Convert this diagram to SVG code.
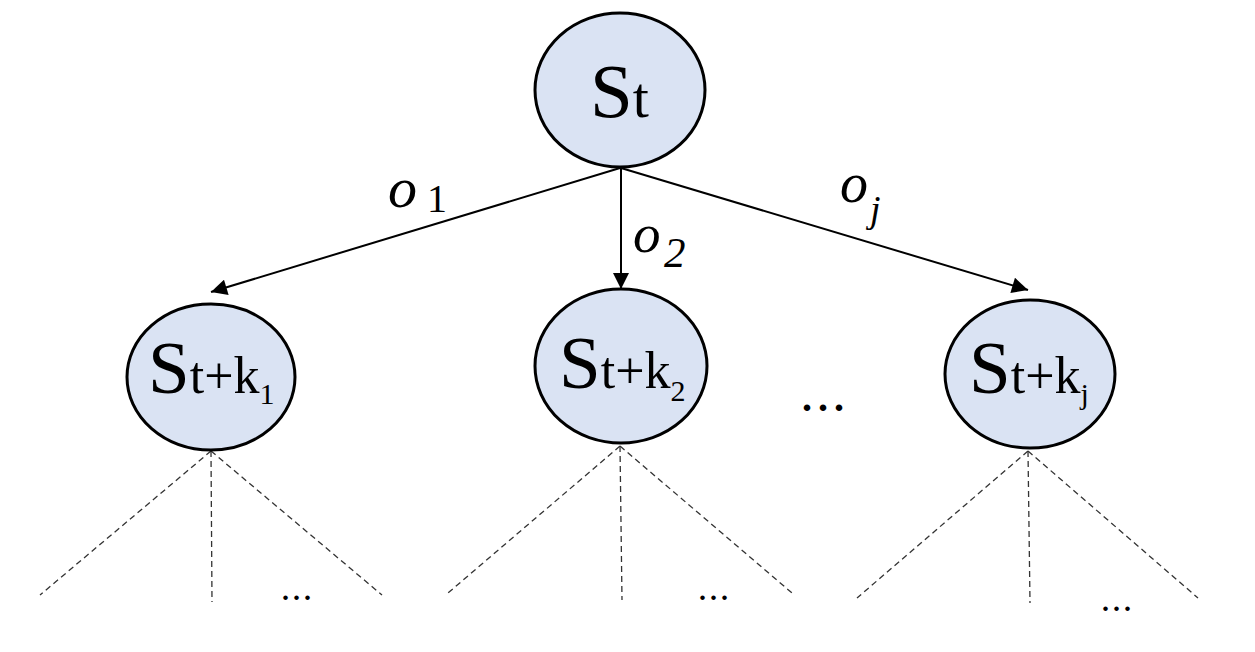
<svg xmlns="http://www.w3.org/2000/svg" width="1255" height="652" viewBox="0 0 1255 652">
<defs>
<marker id="arr" viewBox="0 0 10 10" refX="10" refY="5" markerWidth="9" markerHeight="8" markerUnits="strokeWidth" orient="auto">
<path d="M0,0 L10,5 L0,10 z" fill="#000"/>
</marker>
<style>
.node{fill:#DAE3F3;stroke:#000;stroke-width:3}
.edge{stroke:#000;stroke-width:2;fill:none}
.dash{stroke:#333;stroke-width:1.3;stroke-dasharray:6 4;fill:none}
.t{fill:#000;font-family:'Liberation Serif','Times New Roman','DejaVu Serif',serif}
.it{font-style:italic}
.dots{font-weight:bold}
</style>
</defs>
<rect width="1255" height="652" fill="#fff"/>
<g id="connectors">
<line class="edge" x1="620" y1="168" x2="211" y2="292" marker-end="url(#arr)"/>
<line class="edge" x1="621" y1="168" x2="621" y2="289" marker-end="url(#arr)"/>
<line class="edge" x1="621" y1="168" x2="1028" y2="290" marker-end="url(#arr)"/>
</g>
<g id="edge-labels">
<text class="t" y="207"><tspan class="it" x="388" font-size="58">o</tspan><tspan x="427" y="212" font-size="40">1</tspan></text>
<text class="t" y="252"><tspan class="it" x="633" font-size="55">o</tspan><tspan class="it" x="664" y="267" font-size="43">2</tspan></text>
<text class="t" y="202"><tspan class="it" x="840" font-size="56">o</tspan><tspan class="it" x="870" y="222" font-size="38">j</tspan></text>
</g>
<g id="subtrees">
<line class="dash" x1="211" y1="451" x2="40" y2="595"/>
<line class="dash" x1="211" y1="451" x2="212" y2="602"/>
<line class="dash" x1="211" y1="451" x2="382" y2="595"/>
<text class="t dots" x="282" y="600" font-size="28" letter-spacing="4">...</text>
<line class="dash" x1="620" y1="446" x2="448" y2="593"/>
<line class="dash" x1="620" y1="446" x2="622" y2="600"/>
<line class="dash" x1="620" y1="446" x2="792" y2="593"/>
<text class="t dots" x="699" y="600" font-size="28" letter-spacing="4">...</text>
<line class="dash" x1="1028" y1="451" x2="857" y2="598"/>
<line class="dash" x1="1028" y1="451" x2="1030" y2="603"/>
<line class="dash" x1="1028" y1="451" x2="1198" y2="598"/>
<text class="t dots" x="1102" y="611" font-size="28" letter-spacing="4">...</text>
</g>
<g id="node-st">
<ellipse class="node" cx="620" cy="90" rx="85" ry="77"/>
<text class="t" x="590" y="117"><tspan font-size="77">S</tspan><tspan font-size="58">t</tspan></text>
</g>
<g id="node-stk1">
<ellipse class="node" cx="211" cy="377" rx="84" ry="73"/>
<text class="t" x="148" y="393"><tspan font-size="75">S</tspan><tspan font-size="52">t+k</tspan><tspan font-size="30" dy="11">1</tspan></text>
</g>
<g id="node-stk2">
<ellipse class="node" cx="621" cy="366" rx="86" ry="77"/>
<text class="t" x="559" y="388"><tspan font-size="75">S</tspan><tspan font-size="52">t+k</tspan><tspan font-size="30" dy="13">2</tspan></text>
</g>
<text id="ellipsis-mid" class="t dots" x="802" y="411" font-size="40" letter-spacing="6">...</text>
<g id="node-stkj">
<ellipse class="node" cx="1030" cy="374" rx="85" ry="74"/>
<text class="t" x="969" y="393"><tspan font-size="75">S</tspan><tspan font-size="52">t+k</tspan><tspan font-size="30" dy="11">j</tspan></text>
</g>
</svg>
